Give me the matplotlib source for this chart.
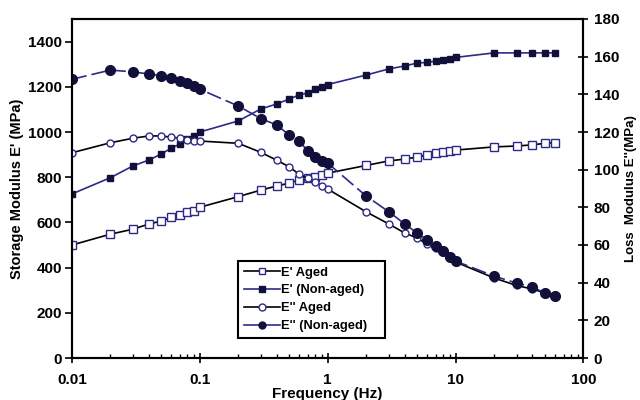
"""
Storage and loss modulus vs frequency, aged vs non-aged.
"""

import numpy as np
import matplotlib
matplotlib.use('Agg')
import matplotlib.pyplot as plt
from matplotlib.ticker import LogLocator, FixedLocator, NullFormatter

plt.rcParams['font.family'] = ['Liberation Sans', 'DejaVu Sans']
plt.rcParams['font.weight'] = 'bold'

freq = [0.01, 0.02, 0.03, 0.04, 0.05, 0.06, 0.07, 0.08, 0.09, 0.1,
        0.2, 0.3, 0.4, 0.5, 0.6, 0.7, 0.8, 0.9, 1,
        2, 3, 4, 5, 6, 7, 8, 9, 10, 20, 30, 40, 50, 60]

e1_aged = [500, 548, 570, 593, 606, 622, 634, 645, 652, 667,
           714, 743, 761, 774, 788, 796, 801, 810, 818,
           852, 872, 880, 889, 898, 907, 911, 916, 920, 934, 938, 943, 950, 953]

e1_nonaged = [726, 798, 850, 876, 903, 929, 947, 969, 982, 1000,
              1049, 1102, 1124, 1146, 1164, 1173, 1190, 1199, 1210,
              1252, 1279, 1292, 1305, 1308, 1314, 1319, 1323, 1330, 1350, 1350, 1350, 1350, 1350]

e2_aged = [109, 114.3, 116.7, 117.9, 117.9, 117.2, 116.7, 115.8, 115.4, 115.2,
           114, 109.2, 105, 101.5, 97.5, 95.5, 93.5, 91.4, 89.7,
           77.6, 71.2, 66.4, 63.7, 60.5, 58.4, 56.3, 54.2, 51, 42.5, 38.5, 36.6, 34.5, 33]

e2_nonaged = [148, 152.9, 151.9, 150.8, 149.9, 148.9, 147.1, 146.2, 144.6, 142.7,
              133.8, 127.1, 123.7, 118.4, 115.2, 109.8, 106.8, 104.8, 103.5,
              86, 77.7, 71.2, 66.4, 62.7, 59.5, 56.8, 53.8, 51.5, 43.5, 39.8, 37.7, 34.5, 33.1]

navy = '#2b2b86'
dark = '#10103a'

fig = plt.figure(figsize=(6.4, 4.0), dpi=100)
ax = fig.add_axes([0.1125, 0.105, 0.799, 0.8475])
ax2 = ax.twinx()

l1, = ax.plot(freq, e1_aged, color='black', lw=1.2, marker='s', ms=5.5,
              mfc='white', mec=navy, mew=1.0, label="E' Aged")
l2, = ax.plot(freq, e1_nonaged, color=navy, lw=1.2, marker='s', ms=4.5,
              mfc=dark, mec=dark, label="E' (Non-aged)")
l3, = ax2.plot(freq, e2_aged, color='black', lw=1.2, marker='o', ms=5,
               mfc='white', mec=navy, mew=1.0, label="E'' Aged")
l4, = ax2.plot(freq, e2_nonaged, color=navy, lw=1.2, marker='o', ms=7,
               mfc=dark, mec=dark, dashes=(9, 3), label="E'' (Non-aged)")

ax.set_xscale('log')
ax.set_xlim(0.01, 100)
ax.set_ylim(0, 1500)
ax2.set_ylim(0, 180)
ax.yaxis.set_major_locator(FixedLocator(np.arange(0, 1401, 200)))
ax2.yaxis.set_major_locator(FixedLocator(np.arange(0, 181, 20)))
ax.xaxis.set_major_locator(LogLocator(base=10))
ax.xaxis.set_minor_locator(LogLocator(base=10, subs=np.arange(2, 10)))
ax.xaxis.set_minor_formatter(NullFormatter())
ax.xaxis.set_major_formatter(plt.FuncFormatter(lambda v, p: '%g' % v))

for a in (ax, ax2):
    for s in a.spines.values():
        s.set_linewidth(1.5)
ax.tick_params(axis='y', direction='out', length=5, width=1.2, labelsize=11, pad=2)
ax.tick_params(axis='x', which='major', direction='inout', length=7, width=1.2,
               labelsize=11, pad=7)
ax.tick_params(axis='x', which='minor', direction='in', length=3, width=1)
ax2.tick_params(axis='y', direction='inout', length=7, width=1.2, labelsize=11, pad=4)

ax.set_xlabel('Frequency (Hz)', fontsize=11, fontweight='bold', labelpad=0)
ax.set_ylabel("Storage Modulus E' (MPa)", fontsize=10.5, fontweight='bold', labelpad=3)
ax2.set_ylabel("Loss  Modulus E''(MPa)", fontsize=9.5, fontweight='bold', labelpad=4)

leg = ax.legend(handles=[l1, l2, l3, l4], loc='lower left',
                bbox_to_anchor=(0.325, 0.059, 0.288, 0.24), mode='expand',
                borderaxespad=0, fancybox=False, edgecolor='black', framealpha=1,
                prop={'size': 9.3, 'weight': 'bold'}, handlelength=2.8,
                handletextpad=0.1, borderpad=0.45, labelspacing=0.45)
leg.get_frame().set_linewidth(1.5)
for h in leg.get_lines():
    h.set_linestyle('-')
    h.set_markersize(5)

fig.savefig('out.png', dpi=100)
